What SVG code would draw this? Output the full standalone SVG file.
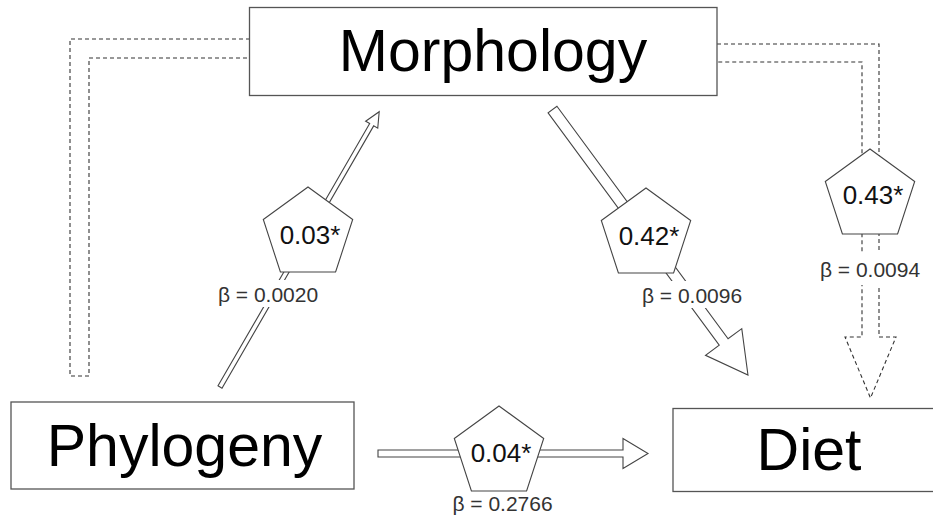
<svg xmlns="http://www.w3.org/2000/svg" xmlns:xlink="http://www.w3.org/1999/xlink" width="933" height="517" viewBox="0 0 933 517">
<style>
.box{fill:#fff;stroke:#555;stroke-width:1.3}
.node{font-family:"Liberation Sans",Arial,sans-serif;font-size:59px;fill:#000;text-anchor:middle}
.arrow{fill:#fff;stroke:#444;stroke-width:1.1;stroke-linejoin:miter}
.dash{fill:#fff;stroke:#333;stroke-width:1.1;stroke-dasharray:4 3}
.pent{fill:#fff;stroke:#444;stroke-width:1.1}
.val{font-family:"Liberation Sans",Arial,sans-serif;font-size:26px;fill:#111;text-anchor:middle}
.beta{font-family:"Liberation Sans",Arial,sans-serif;font-size:21px;fill:#333;text-anchor:middle}
.bg{fill:#fff;stroke:none}
</style>
<defs>
<polygon id="pent" points="0,-47 44.7,-14.5 27.6,38 -27.6,38 -44.7,-14.5"/>
</defs>
<rect width="933" height="517" fill="#fff"/>
<g id="connectors">
<path id="c-left" class="dash" d="M250,39 H70 V376 H89 V58 H250"/>
<path id="c-right" class="dash" d="M717,44 H879 V337 H896 L870.5,398 L845,337 H862 V62 H717"/>
<path id="c-phy-mor" class="arrow" transform="translate(220,387) rotate(-59.96)" d="M0,-2.3 L303,-2.3 L303,-7 L318,0 L303,7 L303,2.3 L0,2.3 Z"/>
<path id="c-mor-diet" class="arrow" transform="translate(552.5,109.5) rotate(53.64)" d="M0,-5.5 L288.7,-5.5 L288.7,-22.5 L329.7,0 L288.7,22.5 L288.7,5.5 L0,5.5 Z"/>
<path id="c-phy-diet" class="arrow" d="M378,450 L623,450 L623,438.5 L648,453.5 L623,468.5 L623,457 L378,457 Z"/>
</g>
<g id="morphology">
<rect class="box" x="249.5" y="7.5" width="467.5" height="88"/>
<text class="node" x="493" y="71">Morphology</text>
</g>
<g id="phylogeny">
<rect class="box" x="11" y="402" width="343" height="87"/>
<text class="node" x="184.5" y="466">Phylogeny</text>
</g>
<g id="diet">
<rect class="box" x="673" y="408.5" width="272" height="83"/>
<text class="node" x="809" y="470">Diet</text>
</g>
<g id="p-003">
<use href="#pent" class="pent" x="308" y="234"/>
<text class="val" x="310" y="244">0.03*</text>
<rect class="bg" x="216" y="280" width="104" height="27"/>
<text class="beta" x="268" y="302">β = 0.0020</text>
</g>
<g id="p-042">
<use href="#pent" class="pent" x="646" y="235"/>
<text class="val" x="649" y="245">0.42*</text>
<rect class="bg" x="640" y="281" width="104" height="27"/>
<text class="beta" x="692" y="303">β = 0.0096</text>
</g>
<g id="p-043">
<use href="#pent" class="pent" x="870" y="196"/>
<text class="val" x="873" y="204">0.43*</text>
<rect class="bg" x="819" y="252" width="102" height="33"/>
<text class="beta" x="870" y="277">β = 0.0094</text>
</g>
<g id="p-004">
<use href="#pent" class="pent" x="499" y="453"/>
<text class="val" x="501" y="462">0.04*</text>
<text class="beta" x="502.5" y="511">β = 0.2766</text>
</g>
</svg>
